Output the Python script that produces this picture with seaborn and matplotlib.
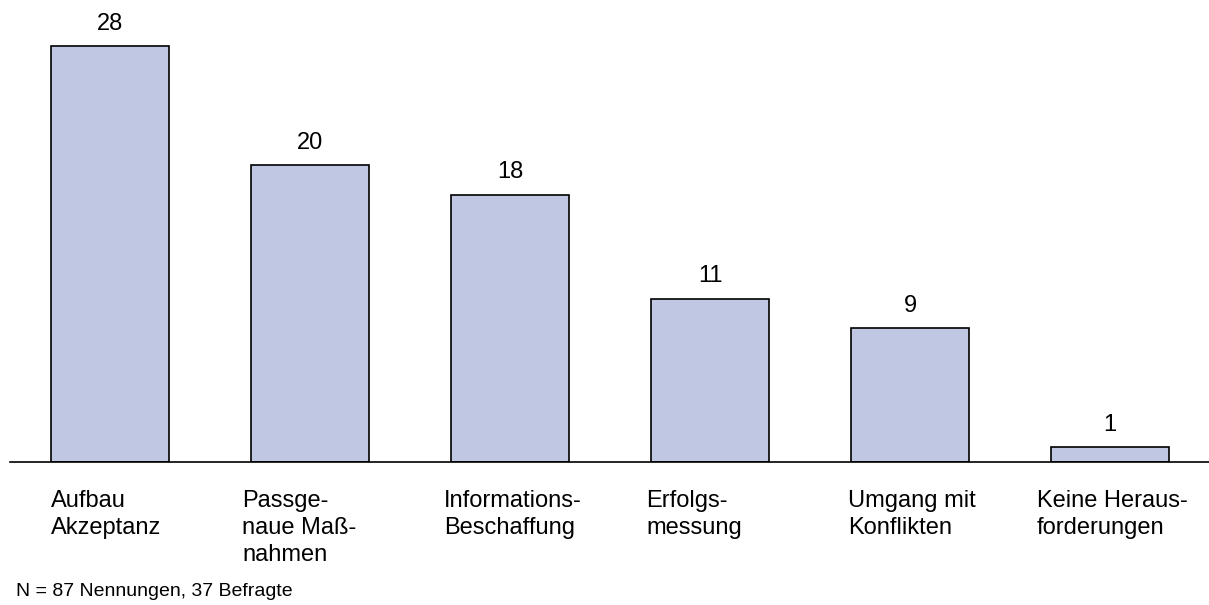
import matplotlib
matplotlib.use("Agg")
import matplotlib.pyplot as plt
import seaborn as sns

# Daten
kategorien = ["Aufbau\nAkzeptanz", "Passge-\nnaue Maß-\nnahmen", "Informations-\nBeschaffung",
              "Erfolgs-\nmessung", "Umgang mit\nKonflikten", "Keine Heraus-\nforderungen"]
werte = [28, 20, 18, 11, 9, 1]
fussnote = "N = 87 Nennungen, 37 Befragte"

sns.set_style("white")
plt.rcParams['font.family'] = ['Liberation Sans', 'DejaVu Sans']
plt.rcParams['text.color'] = 'black'

fig = plt.figure(figsize=(12.09, 6.05), dpi=100)
ax = fig.add_axes([10 / 1209, (605 - 462) / 605, 1200 / 1209, 445.7 / 605])

breite = 0.59
sns.barplot(x=list(range(len(werte))), y=werte, color="#C0C7E3", saturation=1,
            edgecolor="black", linewidth=1.2, width=breite, ax=ax)

ax.set_xlim(-0.5, 5.5)
ax.set_ylim(0, 30)

# Werte über den Balken
for i, w in enumerate(werte):
    ax.annotate(str(w), xy=(i, w), xytext=(0, 8), textcoords="offset points",
                ha="center", va="bottom", fontsize=17, color="black")

# Kategorien linksbündig unter den Balken (kleine Verschiebung in Punkten)
verschiebung = [0, -6.5, -5, -3.5, -2, -10]
for i, k in enumerate(kategorien):
    ax.annotate(k, xy=(i - breite / 2, 0), xytext=(verschiebung[i], -20),
                textcoords="offset points", ha="left", va="top", fontsize=17,
                linespacing=1.3, color="black", annotation_clip=False)

ax.set_xticks([])
ax.set_yticks([])
ax.set_xlabel("")
ax.set_ylabel("")
sns.despine(ax=ax, left=True, top=True, right=True)
ax.spines["bottom"].set_color("black")
ax.spines["bottom"].set_linewidth(1.2)

fig.text(16 / 1209, 5 / 605, fussnote, ha="left", va="bottom", fontsize=14, color="black")

fig.savefig("out.png", dpi=100)
